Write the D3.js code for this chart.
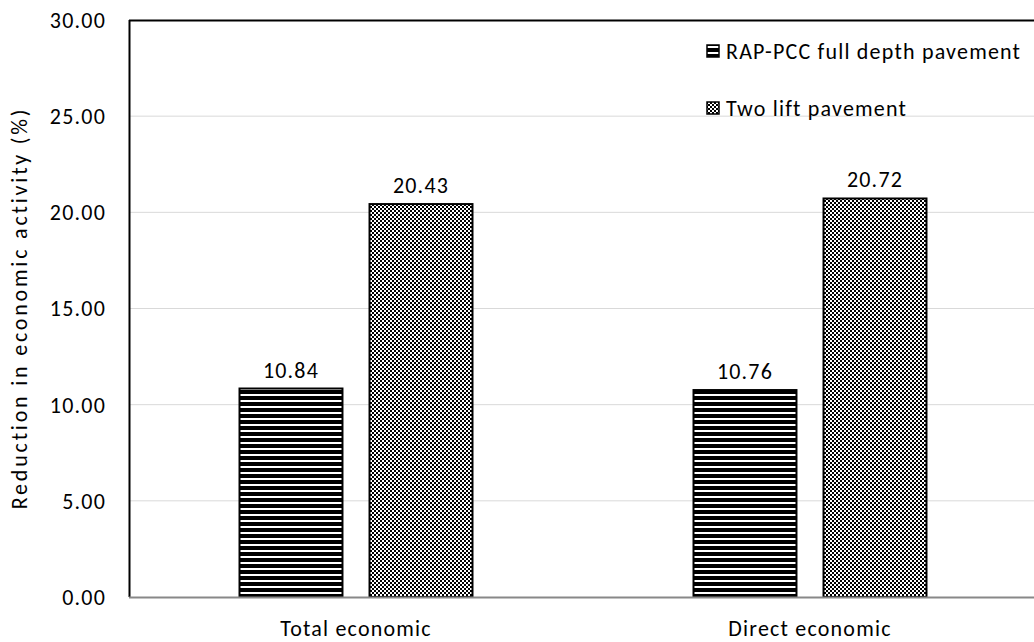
<!DOCTYPE html>
<html><head><meta charset="utf-8">
<script src="https://cdn.jsdelivr.net/npm/d3@7"></script>
<style>body{margin:0;background:#fff}svg{display:block;font-family:Carlito,Lato,sans-serif}</style>
</head><body><svg id="c" width="1034" height="642"></svg>
<script>
const categories = ["Total economic", "Direct economic"];
const seriesNames = ["RAP-PCC full depth pavement", "Two lift pavement"];
const rapValues = [10.84, 10.76];
const twoLiftValues = [20.43, 20.72];
const yTicks = [0, 5, 10, 15, 20, 25, 30];

const FONT = "Carlito, Lato, sans-serif";
const FS = 22;
const LS = 1.2;
const svg = d3.select("#c");
const m = {left:129, top:20, right:1037, bottom:597};
const x = d3.scaleBand().domain(categories).range([m.left, m.right]);
const xs = d3.scaleBand().domain(seriesNames).range([0, x.bandwidth()]).paddingInner(0.208).paddingOuter(0.85);
const y = d3.scaleLinear().domain([0,30]).range([m.bottom, m.top]);

const defs = svg.append("defs");
const p1 = defs.append("pattern").attr("id","hstripe").attr("patternUnits","userSpaceOnUse").attr("width",6).attr("height",6);
p1.append("rect").attr("width",6).attr("height",6).attr("fill","#000");
p1.append("rect").attr("y",4).attr("width",6).attr("height",2).attr("fill","#fff");
const p2 = defs.append("pattern").attr("id","check").attr("patternUnits","userSpaceOnUse").attr("width",4).attr("height",4);
p2.append("rect").attr("width",4).attr("height",4).attr("fill","#fff");
p2.append("rect").attr("width",2).attr("height",2).attr("fill","#000");
p2.append("rect").attr("x",2).attr("y",2).attr("width",2).attr("height",2).attr("fill","#000");
const fills = ["url(#hstripe)","url(#check)"];

// gridlines
svg.append("g").selectAll("line").data(yTicks.filter(d=>d>0 && d<30)).join("line")
  .attr("x1",m.left).attr("x2",1034).attr("y1",d=>y(d)).attr("y2",d=>y(d))
  .attr("stroke","#d9d9d9").attr("stroke-width",1);

// y axis
const yAxis = d3.axisLeft(y).tickValues(yTicks).tickFormat(d3.format(".2f")).tickSize(0).tickPadding(23);
const ga = svg.append("g").attr("transform",`translate(${m.left},0)`).call(yAxis)
  .attr("font-family",FONT).attr("font-size",FS);
ga.select(".domain").remove();
ga.selectAll("text").attr("fill","#000").attr("letter-spacing",LS).attr("dy","0.34em");

// frame
svg.append("line").attr("x1",m.left).attr("x2",1034).attr("y1",m.top+0.5).attr("y2",m.top+0.5).attr("stroke","#000").attr("stroke-width",2);
svg.append("line").attr("x1",m.left+0.5).attr("x2",m.left+0.5).attr("y1",m.top).attr("y2",m.bottom).attr("stroke","#000").attr("stroke-width",2);

// bars
const data = categories.map((c,i)=>({cat:c, vals:[rapValues[i], twoLiftValues[i]]}));
const g = svg.append("g").attr("font-family",FONT).attr("font-size",FS).attr("letter-spacing",LS);
data.forEach(d=>{
  d.vals.forEach((v,j)=>{
    const bx = x(d.cat)+xs(seriesNames[j]);
    g.append("rect").attr("x",bx).attr("y",y(v)).attr("width",xs.bandwidth()).attr("height",y(0)-y(v))
      .attr("fill",fills[j]).attr("stroke","#000").attr("stroke-width",2);
    g.append("text").attr("x",bx+xs.bandwidth()/2).attr("y",y(v)-11).attr("text-anchor","middle")
      .text(v.toFixed(2));
  });
});

// x axis line
svg.append("line").attr("x1",m.left).attr("x2",1034).attr("y1",m.bottom+0.5).attr("y2",m.bottom+0.5).attr("stroke","#888").attr("stroke-width",2);
svg.append("g").attr("font-family",FONT).attr("font-size",FS).attr("letter-spacing",LS).selectAll("text").data(categories).join("text")
  .attr("x",d=>x(d)+x.bandwidth()/2).attr("y",636).attr("text-anchor","middle").text(d=>d);

// y title
svg.append("text").attr("transform","translate(27,308) rotate(-90)").attr("text-anchor","middle")
  .attr("font-family",FONT).attr("font-size",22).attr("letter-spacing",2.8).text("Reduction in economic activity (%)");

// legend
const leg = svg.append("g").attr("font-family",FONT).attr("font-size",FS).attr("letter-spacing",LS);
seriesNames.forEach((s,i)=>{
  const ly = 51 + i*57;
  leg.append("rect").attr("x",707).attr("y",ly-6).attr("width",12).attr("height",12).attr("fill",fills[i]).attr("stroke","#000").attr("stroke-width",1.5);
  leg.append("text").attr("x",726).attr("y",ly+8).text(s);
});
</script></body></html>
